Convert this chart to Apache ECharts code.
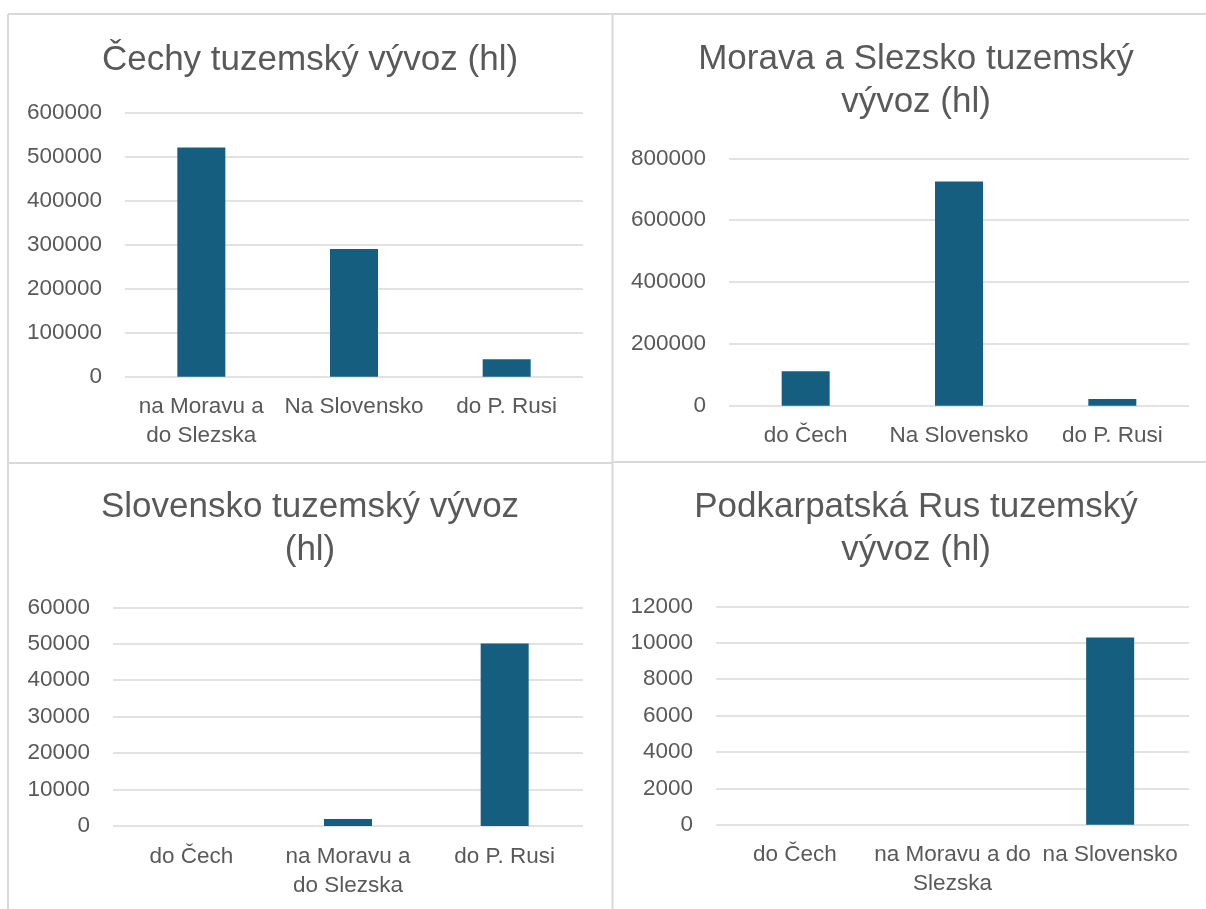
<!DOCTYPE html>
<html>
<head>
<meta charset="utf-8">
<script src="https://cdn.jsdelivr.net/npm/echarts@6/dist/echarts.min.js"></script>
<style>
  html, body { margin: 0; padding: 0; background: #ffffff; }
  #chart { width: 1206px; height: 909px; }
</style>
</head>
<body>
<div id="chart"></div>
<script>
// ---- data ----
const titles = [
  'Čechy tuzemský vývoz (hl)',
  'Morava a Slezsko tuzemský\nvývoz (hl)',
  'Slovensko tuzemský vývoz\n(hl)',
  'Podkarpatská Rus tuzemský\nvývoz (hl)'
];
const catsCechy = ['na Moravu a\ndo Slezska', 'Na Slovensko', 'do P. Rusi'];
const valsCechy = [521000, 290000, 39400];
const catsMorava = ['do Čech', 'Na Slovensko', 'do P. Rusi'];
const valsMorava = [111000, 725000, 21600];
const catsSlovensko = ['do Čech', 'na Moravu a\ndo Slezska', 'do P. Rusi'];
const valsSlovensko = [0, 1950, 50100];
const catsPRus = ['do Čech', 'na Moravu a do\nSlezska', 'na Slovensko'];
const valsPRus = [0, 0, 10280];
const axisMax = [600000, 800000, 60000, 12000];
const axisStep = [100000, 200000, 10000, 2000];

// ---- layout / style ----
const FONT = 'Liberation Sans';
const TXT = '#595959';
const GRIDC = '#d9d9d9';
const BAR = '#165E80';

const grids = [
  { left: 125, right: 623, top: 112.7, bottom: 532.3 },
  { left: 729, right: 17, top: 158.3, bottom: 503.3 },
  { left: 113, right: 623, top: 607.3, bottom: 83 },
  { left: 716, right: 17, top: 606.3, bottom: 84.3 }
];
const titlePos = [
  { left: 310, top: 39 },
  { left: 916, top: 38 },
  { left: 310, top: 486 },
  { left: 916, top: 486 }
];
const cats = [catsCechy, catsMorava, catsSlovensko, catsPRus];
const vals = [valsCechy, valsMorava, valsSlovensko, valsPRus];

const option = {
  backgroundColor: '#ffffff',
  animation: false,
  title: titles.map((t, i) => ({
    text: t,
    left: titlePos[i].left,
    top: titlePos[i].top,
    textAlign: 'center',
    padding: 0,
    textStyle: { fontFamily: FONT, fontSize: 35, fontWeight: 'normal', color: TXT, lineHeight: 43 }
  })),
  grid: grids.map(g => Object.assign({ containLabel: false }, g)),
  xAxis: cats.map((c, i) => ({
    type: 'category',
    gridIndex: i,
    data: c,
    axisLine: { show: false },
    axisTick: { show: false },
    axisLabel: { interval: 0, margin: 16, fontFamily: FONT, fontSize: 22.5, lineHeight: 29, color: TXT }
  })),
  yAxis: axisMax.map((m, i) => ({
    type: 'value',
    gridIndex: i,
    min: 0,
    max: m,
    interval: axisStep[i],
    axisLine: { show: false },
    axisTick: { show: false },
    axisLabel: { margin: 23, fontFamily: FONT, fontSize: 22.5, color: TXT, formatter: v => String(v) },
    splitLine: { show: true, lineStyle: { color: GRIDC, width: 1.5 } }
  })),
  series: vals.map((v, i) => ({
    type: 'bar',
    xAxisIndex: i,
    yAxisIndex: i,
    data: v,
    barWidth: 48,
    itemStyle: { color: BAR }
  })),
  graphic: [
    { type: 'line', shape: { x1: 8, y1: 14, x2: 1206, y2: 14 }, style: { stroke: GRIDC, lineWidth: 2 } },
    { type: 'line', shape: { x1: 8, y1: 14, x2: 8, y2: 909 }, style: { stroke: GRIDC, lineWidth: 2 } },
    { type: 'line', shape: { x1: 612.5, y1: 14, x2: 612.5, y2: 909 }, style: { stroke: GRIDC, lineWidth: 2 } },
    { type: 'line', shape: { x1: 8, y1: 463, x2: 612, y2: 463 }, style: { stroke: GRIDC, lineWidth: 2 } },
    { type: 'line', shape: { x1: 613, y1: 462, x2: 1206, y2: 462 }, style: { stroke: GRIDC, lineWidth: 2 } }
  ]
};

const chart = echarts.init(document.getElementById('chart'), null, { renderer: 'canvas' });
chart.setOption(option);
</script>
</body>
</html>
